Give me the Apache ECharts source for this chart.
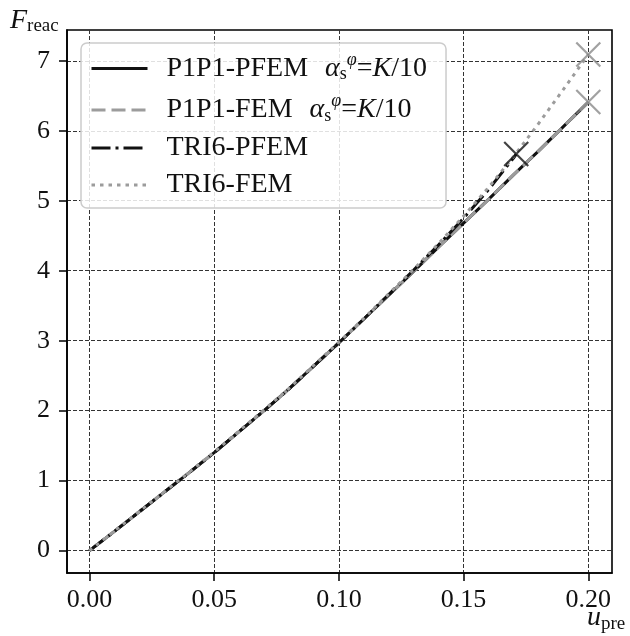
<!DOCTYPE html>
<html>
<head>
<meta charset="utf-8">
<script src="https://cdn.jsdelivr.net/npm/echarts@6/dist/echarts.min.js"></script>
<style>html,body{margin:0;padding:0;background:#fff}#c{width:630px;height:636px}</style>
</head>
<body>
<div id="c"></div>
<script>
// ---- data ----
const seriesNames = ['P1P1-PFEM', 'P1P1-FEM', 'TRI6-PFEM', 'TRI6-FEM'];
const xTickValues = [0, 0.05, 0.10, 0.15, 0.20];
const yTickValues = [0, 1, 2, 3, 4, 5, 6, 7];

const p1p1U = [0, 0.01, 0.02, 0.03, 0.04, 0.05, 0.06, 0.07, 0.08, 0.09, 0.10,
               0.11, 0.12, 0.13, 0.14, 0.15, 0.16, 0.17, 0.18, 0.19, 0.20];
const p1p1PfemF = [0, 0.275, 0.555, 0.835, 1.115, 1.40, 1.70, 2.00, 2.31, 2.64, 2.97,
                   3.31, 3.65, 3.99, 4.34, 4.68, 5.02, 5.37, 5.71, 6.06, 6.41];
const p1p1FemF  = [0, 0.275, 0.555, 0.835, 1.115, 1.40, 1.70, 2.00, 2.31, 2.64, 2.97,
                   3.31, 3.65, 3.99, 4.34, 4.68, 5.02, 5.37, 5.71, 6.06, 6.41];

const tri6PfemU = [0, 0.01, 0.02, 0.03, 0.04, 0.05, 0.06, 0.07, 0.08, 0.09, 0.10,
                   0.11, 0.12, 0.13, 0.14, 0.15, 0.16, 0.17, 0.1711];
const tri6PfemF = [0, 0.275, 0.555, 0.835, 1.115, 1.40, 1.70, 2.00, 2.31, 2.64, 2.97,
                   3.31, 3.66, 4.01, 4.37, 4.75, 5.16, 5.61, 5.667];

const tri6FemU = [0, 0.01, 0.02, 0.03, 0.04, 0.05, 0.06, 0.07, 0.08, 0.09, 0.10,
                  0.11, 0.12, 0.13, 0.14, 0.15, 0.16, 0.17, 0.18, 0.19, 0.20];
const tri6FemF = [0, 0.28, 0.56, 0.84, 1.12, 1.41, 1.71, 2.01, 2.32, 2.65, 2.98,
                  3.32, 3.67, 4.02, 4.39, 4.78, 5.19, 5.63, 6.10, 6.59, 7.09];

// ---- helpers ----
const pairs = (u, f) => u.map((v, i) => [v, f[i]]);
const last = (u, f) => [u[u.length - 1], f[f.length - 1]];

const SERIF = '"Liberation Serif", "DejaVu Serif", serif';
const GRAY = '#9c9c9c';
const CROSS = 'path://M0,0L10,10M10,0L0,10';

const chart = echarts.init(document.getElementById('c'), null, {renderer: 'canvas'});

const mathSuffix = ' {a0|α}{sub|s}{sup|φ}{t|=}{a|K}{t|/10}';

const option = {
  animation: false,
  backgroundColor: '#fff',
  grid: {
    left: 67, right: 18, top: 30, bottom: 63,
    outerBoundsMode: 'none', containLabel: false,
    show: true, borderColor: '#000', borderWidth: 1.6, backgroundColor: 'transparent'
  },
  legend: {
    orient: 'vertical',
    left: 81, top: 43,
    padding: [8, 19, 9, 9],
    itemWidth: 56, itemHeight: 20, itemGap: 9,
    backgroundColor: 'rgba(255,255,255,0.85)',
    borderColor: '#cccccc', borderWidth: 1.5, borderRadius: 6,
    itemStyle: {color: 'transparent', borderColor: 'transparent', borderWidth: 0, opacity: 0},
    lineStyle: {width: 3},
    data: seriesNames,
    formatter: function (name) {
      if (name === 'P1P1-PFEM' || name === 'P1P1-FEM') return '{t|' + name + '}' + mathSuffix;
      return '{t|' + name + '}';
    },
    textStyle: {
      fontFamily: SERIF, fontSize: 28, color: '#111', padding: [0, 0, 0, 14],
      rich: {
        t: {fontFamily: SERIF, fontSize: 28, color: '#111', lineHeight: 30},
        a0: {fontFamily: SERIF, fontSize: 28, fontStyle: 'italic', color: '#111', lineHeight: 30, padding: [0, 0, 0, 10]},
        a: {fontFamily: SERIF, fontSize: 28, fontStyle: 'italic', color: '#111', lineHeight: 30},
        sub: {fontFamily: SERIF, fontSize: 18, color: '#111', padding: [12, 0, 0, 0]},
        sup: {fontFamily: SERIF, fontSize: 18, fontStyle: 'italic', color: '#111', padding: [0, 0, 17, 0]}
      }
    }
  },
  graphic: [
    {
      type: 'text', left: 10, top: 7, z: 10, silent: true,
      style: {
        text: '{F|F}{s|reac}', fill: '#111',
        rich: {
          F: {fontFamily: SERIF, fontSize: 28, fontStyle: 'italic', fill: '#111', lineHeight: 30},
          s: {fontFamily: SERIF, fontSize: 19, fill: '#111', padding: [10, 0, 0, 0]}
        }
      }
    },
    {
      type: 'text', left: 587, top: 604, z: 10, silent: true,
      style: {
        text: '{u|u}{s|pre}', fill: '#111',
        rich: {
          u: {fontFamily: SERIF, fontSize: 28, fontStyle: 'italic', fill: '#111', lineHeight: 30},
          s: {fontFamily: SERIF, fontSize: 19, fill: '#111', padding: [12, 0, 0, 0]}
        }
      }
    }
  ],
  xAxis: {
    type: 'value', min: -0.009, max: 0.2095,
    axisLine: {show: true, onZero: false, lineStyle: {color: '#000', width: 1.6}},
    axisTick: {show: true, inside: false, length: 8, customValues: xTickValues, lineStyle: {color: '#000', width: 1.5}},
    axisLabel: {
      customValues: xTickValues, margin: 14,
      fontFamily: SERIF, fontSize: 26, color: '#111',
      formatter: v => v.toFixed(2)
    },
    splitLine: {show: true, lineStyle: {color: '#333', width: 1, type: [4, 2]}}
  },
  yAxis: {
    type: 'value', min: -0.32, max: 7.44,
    axisLine: {show: true, onZero: false, lineStyle: {color: '#000', width: 1.6}},
    axisTick: {show: true, inside: false, length: 8, customValues: yTickValues, lineStyle: {color: '#000', width: 1.5}},
    axisLabel: {
      customValues: yTickValues, margin: 17,
      fontFamily: SERIF, fontSize: 26, color: '#111'
    },
    splitLine: {show: true, lineStyle: {color: '#333', width: 1, type: [4, 2]}}
  },
  series: [
    {
      name: 'P1P1-PFEM', type: 'line', data: pairs(p1p1U, p1p1PfemF),
      symbol: 'none', showSymbol: false, z: 3,
      lineStyle: {color: '#111', width: 3, type: 'solid'}, itemStyle: {color: '#111'}
    },
    {
      name: 'P1P1-FEM', type: 'line', data: pairs(p1p1U, p1p1FemF),
      symbol: 'none', showSymbol: false, z: 3,
      lineStyle: {color: GRAY, width: 3, type: [14, 6]}, itemStyle: {color: GRAY}
    },
    {
      name: 'TRI6-PFEM', type: 'line', data: pairs(tri6PfemU, tri6PfemF),
      symbol: 'none', showSymbol: false, z: 3,
      lineStyle: {color: '#111', width: 3, type: [19, 5, 3, 5]}, itemStyle: {color: '#111'}
    },
    {
      name: 'TRI6-FEM', type: 'line', data: pairs(tri6FemU, tri6FemF),
      symbol: 'none', showSymbol: false, z: 3,
      lineStyle: {color: GRAY, width: 3, type: [3.5, 5]}, itemStyle: {color: GRAY}
    },
    {
      name: 'end-black', type: 'scatter', z: 4,
      data: [last(tri6PfemU, tri6PfemF)],
      symbol: CROSS, symbolSize: 24,
      itemStyle: {color: 'transparent', borderColor: '#111', borderWidth: 2.2}
    },
    {
      name: 'end-gray', type: 'scatter', z: 4,
      data: [last(p1p1U, p1p1FemF), last(tri6FemU, tri6FemF)],
      symbol: CROSS, symbolSize: 24,
      itemStyle: {color: 'transparent', borderColor: '#8a8a8a', borderWidth: 2.2}
    }
  ]
};
chart.setOption(option);
</script>
</body>
</html>
